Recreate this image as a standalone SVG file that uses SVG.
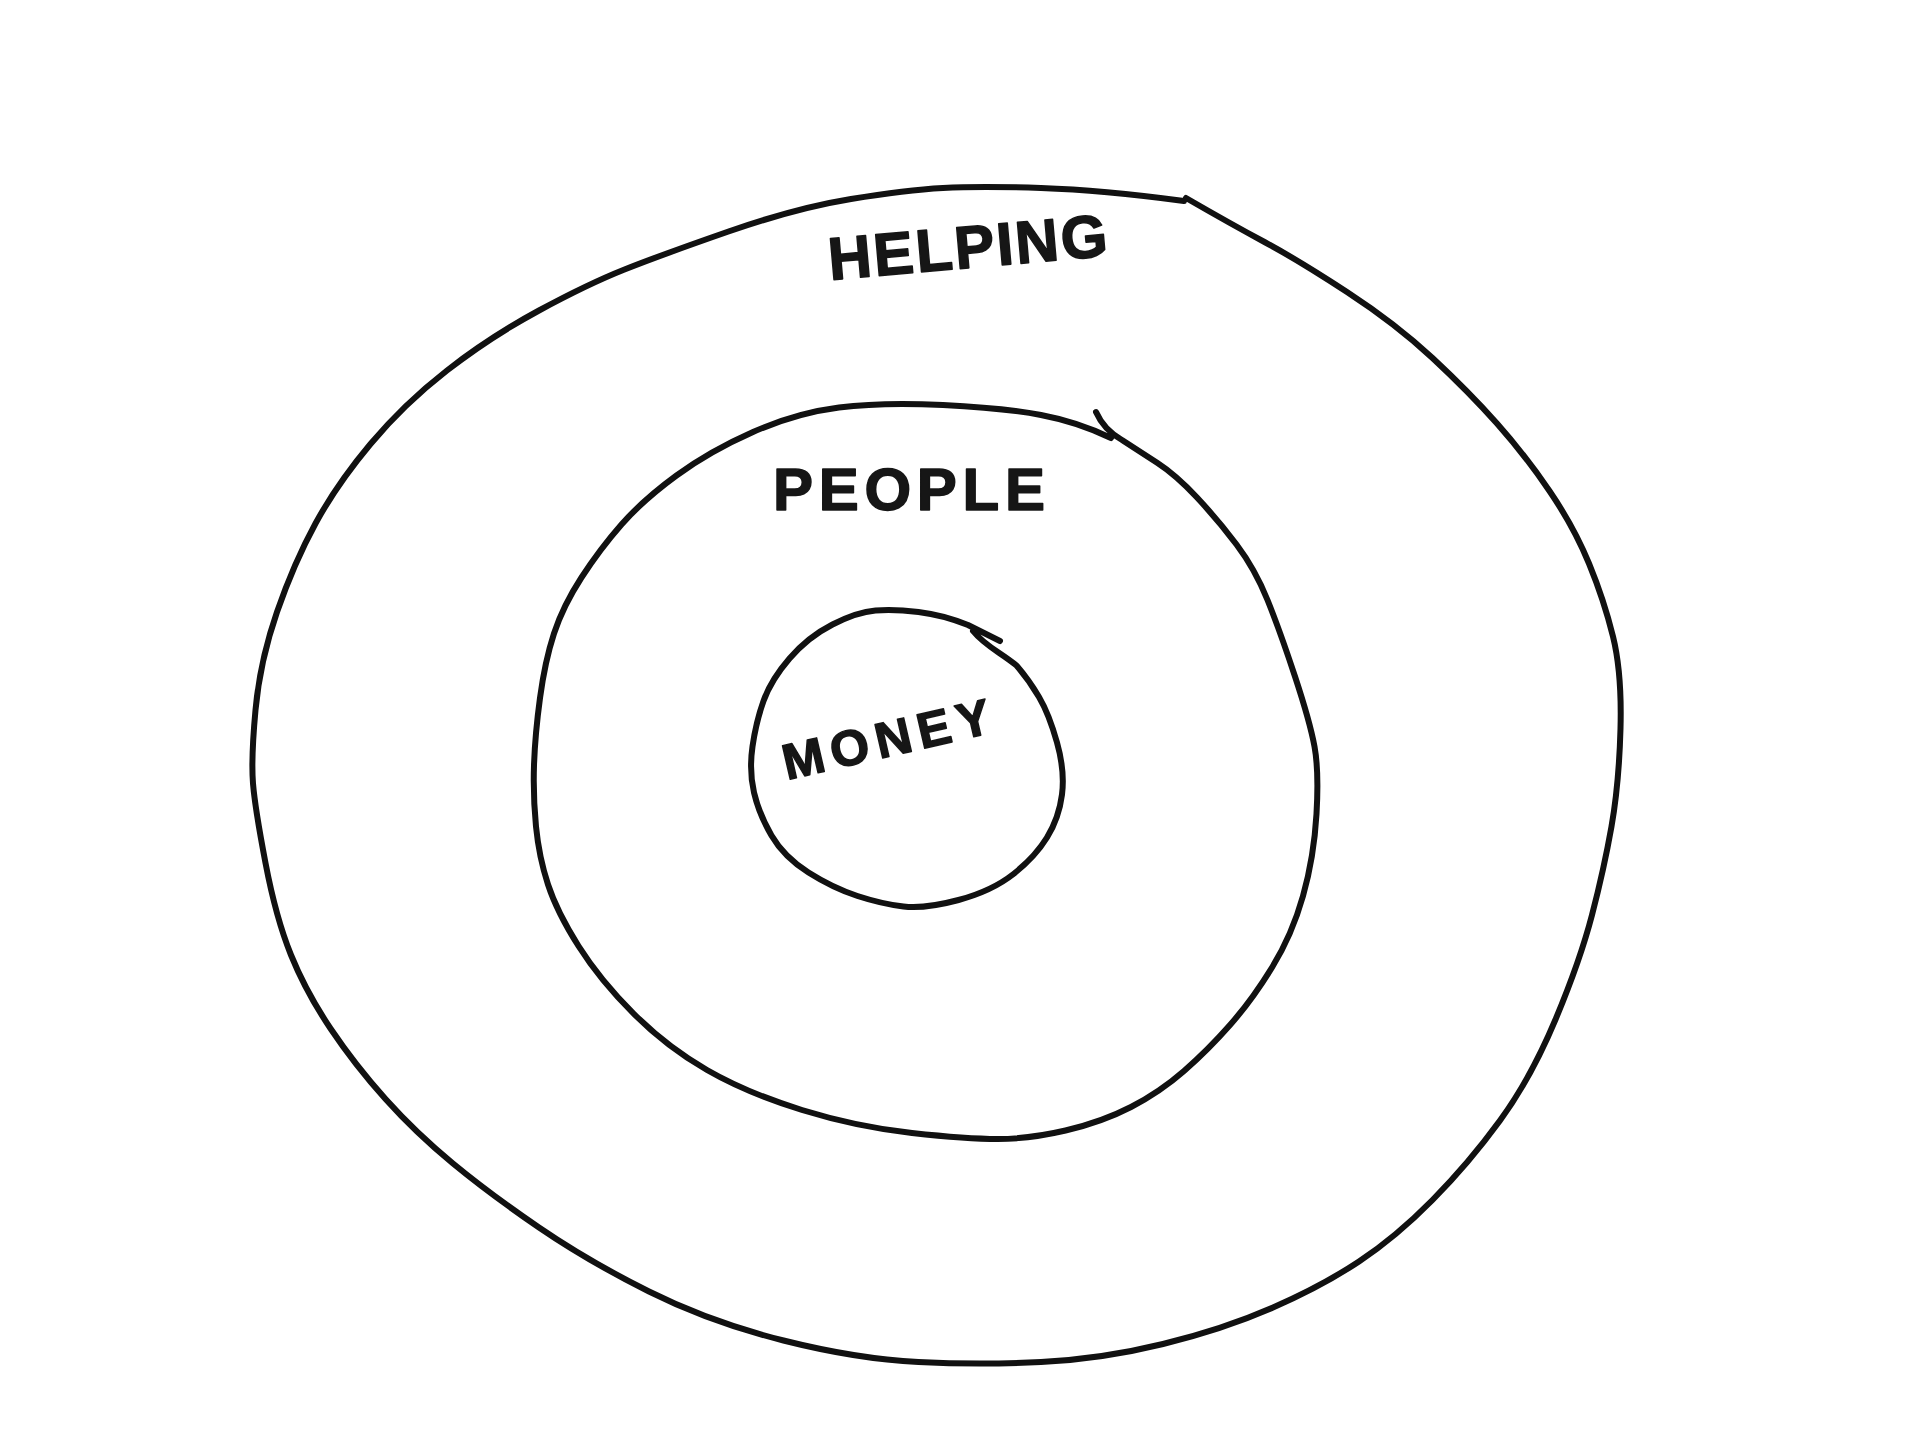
<svg xmlns="http://www.w3.org/2000/svg" width="1920" height="1440" viewBox="0 0 1920 1440">
<style>
.ring{fill:none;stroke:#111;stroke-width:6;stroke-linecap:round;stroke-linejoin:round}
.lbl{font-family:"Liberation Sans",Arial,sans-serif;font-weight:700;fill:#161616;stroke:#161616;stroke-width:1.5;stroke-linejoin:round}
</style>
<rect width="1920" height="1440" fill="#fff"/>
<g id="helping">
<path class="ring" d="M1186,198 Q1231,224 1264.5,242 Q1298,260 1347,292 Q1396,324 1432.5,358 Q1469,392 1497,423.5 Q1525,455 1549.5,491 Q1574,527 1589,563.5 Q1604,600 1613,636.5 Q1622,673 1620.5,728.5 Q1619,784 1611.5,826.5 Q1604,869 1592,915 Q1580,961 1555.5,1019.5 Q1531,1078 1500,1120.5 Q1469,1163 1432.5,1200 Q1396,1237 1359,1261.5 Q1322,1286 1273,1307.5 Q1224,1329 1163,1344 Q1102,1359 1041,1362 Q980,1365 918.5,1362 Q857,1359 783.5,1340.5 Q710,1322 649,1291.5 Q588,1261 539,1227.5 Q490,1194 453,1163.5 Q416,1133 385.5,1099 Q355,1065 330.5,1028.5 Q306,992 291,955 Q276,918 265.5,863 Q255,808 253,783.5 Q251,759 255.5,710 Q260,661 277,612 Q294,563 315.5,523.5 Q337,484 370.5,444 Q404,404 447,370.5 Q490,337 539,310.5 Q588,284 624.5,269.5 Q661,255 728.5,231.5 Q796,208 851,199 Q906,190 943,188 Q980,186 1041,188 Q1102,190 1184,201"/>
<text class="lbl" x="830" y="280" font-size="60" textLength="280" lengthAdjust="spacing" transform="rotate(-5 830 280)">HELPING</text>
</g>
<g id="people">
<path class="ring" d="M1096,412 Q1104,430 1122,440 Q1139,451 1157.5,463 Q1176,475 1197,497.5 Q1218,520 1236.5,544.5 Q1255,569 1267.5,600 Q1280,631 1295,676.5 Q1310,722 1314.5,746.5 Q1319,771 1316.5,814 Q1314,857 1303,896 Q1292,935 1272,967.5 Q1252,1000 1230,1025 Q1208,1050 1184,1071 Q1160,1092 1131,1107 Q1102,1122 1065.5,1130.5 Q1029,1139 998,1139 Q967,1139 912,1133 Q857,1127 802,1110 Q747,1093 707,1070 Q667,1047 633.5,1013.5 Q600,980 578.5,946 Q557,912 548,884.5 Q539,857 536,826.5 Q533,796 534,765.5 Q535,735 540,698 Q545,661 554,633.5 Q563,606 581.5,577.5 Q600,549 621.5,524.5 Q643,500 676.5,475.5 Q710,451 753,432 Q796,413 839,407.5 Q882,402 943,405 Q1004,408 1041,415 Q1078,422 1111,438"/>
<text class="lbl" x="773" y="510" font-size="60" textLength="272" lengthAdjust="spacing">PEOPLE</text>
</g>
<g id="money">
<path class="ring" d="M973,631 C985,646 1000,652 1016.5,665.5 Q1029,680 1039,697 Q1049,714 1057,742.5 Q1065,771 1062,794.5 Q1059,818 1047,837.5 Q1035,857 1013.5,874 Q992,891 958.5,900 Q925,909 903.5,906.5 Q882,904 857.5,896 Q833,888 808.5,872.5 Q784,857 771.5,835.5 Q759,814 754,792.5 Q749,771 752.5,746.5 Q756,722 763.5,701 Q771,680 789.5,658.5 Q808,637 832.5,624.5 Q857,612 875.5,610.5 Q894,609 918.5,612 Q943,615 968,625 L1000,641"/>
<text class="lbl" x="787" y="780" font-size="50" textLength="212" lengthAdjust="spacing" transform="rotate(-13 787 780)">MONEY</text>
</g>
<g id="connectors"/>
</svg>
